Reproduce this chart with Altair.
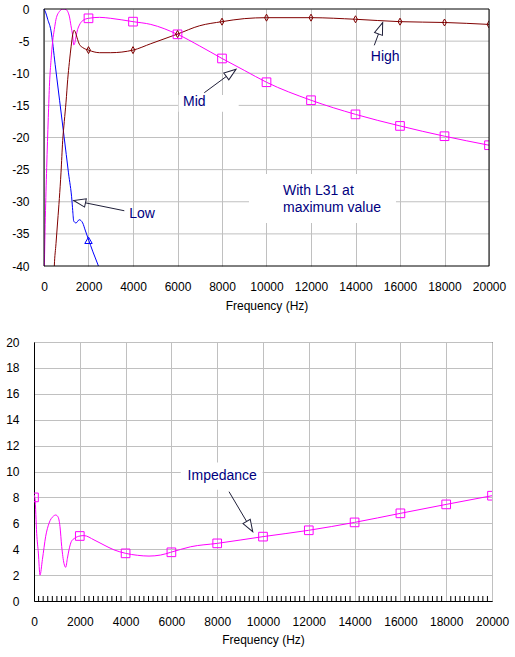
import altair as alt
import pandas as pd

FONT = "Liberation Sans"
GRID = "#c0c0c0"
NAVY = "#000080"
ARROW = "#20203a"
BLUE = "#0000ff"
MAGENTA = "#ff00ff"
DARKRED = "#800000"

# ---------------- Top chart: response (dB) vs frequency (Hz) ----------------
low_f = [0, 80, 166, 315, 500, 700, 900, 1100, 1258, 1300, 1335, 1438, 1586, 1739, 1850, 1991, 2200, 2413, 2600]
low_db = [0, -0.6, -1.6, -3.4, -8.6, -14.2, -19.8, -25.5, -29.9, -31.8, -33.0, -33.3, -32.8, -33.3, -34.4, -35.8, -37.8, -39.7, -41.5]
low_mk_f = [2000]
low_mk_db = [-36.0]

mid_f = [5, 60, 121, 193, 250, 315, 390, 463, 540, 690, 850, 1000, 1080, 1137, 1213, 1290, 1340,
         1390, 1438, 1510, 1590, 1740, 2000, 2500, 3000, 4000, 4800, 6000, 7000, 8000, 9000,
         10000, 12000, 14000, 16000, 18000, 20000]
mid_db = [-42, -32.5, -24.7, -16.9, -11.5, -8.0, -5.0, -3.2, -1.6, -0.4, 0, -0.1, -0.5, -1.1, -2.6, -4.2, -5.6,
          -5.2, -4.3, -3.2, -2.5, -1.8, -1.45, -1.3, -1.45, -1.97, -2.4, -3.94, -5.76, -7.7, -9.55,
          -11.4, -14.2, -16.4, -18.2, -19.8, -21.2]
mid_mk_f = [2000, 4000, 6000, 8000, 10000, 12000, 14000, 16000, 18000, 20000]
mid_mk_db = [-1.45, -1.97, -3.94, -7.7, -11.4, -14.2, -16.4, -18.2, -19.8, -21.2]

high_f = [420, 463, 540, 615, 690, 764, 840, 912, 990, 1065, 1140, 1220, 1290, 1350, 1410, 1480, 1590,
          1740, 2000, 2500, 3000, 4000, 4800, 6000, 7000, 8000, 9000, 10000, 12000, 14000, 16000,
          18000, 20000]
high_db = [-44, -40, -36.5, -33, -29.5, -25.5, -20.5, -17.5, -14.5, -11, -8.3, -5.8, -4.0, -3.3, -3.6, -4.4, -5.5,
           -6.0, -6.4, -6.8, -6.8, -6.4, -5.4, -3.9, -2.6, -1.97, -1.5, -1.35, -1.35, -1.6, -1.97,
           -2.1, -2.4]
high_mk_f = [2000, 4000, 6000, 8000, 10000, 12000, 14000, 16000, 18000, 20000]
high_mk_db = [-6.4, -6.4, -3.9, -1.97, -1.35, -1.35, -1.6, -1.97, -2.1, -2.4]

# ---------------- Bottom chart: impedance (ohm) vs frequency (Hz) ----------------
imp_f = [0, 44, 118, 191, 262, 367, 511, 655, 847, 948, 1048, 1135, 1210, 1310, 1384, 1459, 1528,
         1633, 1777, 2009, 2183, 2620, 3057, 3494, 4004, 4515, 5022, 5533, 5970, 6843, 8000,
         10000, 12000, 14000, 16000, 18000, 20000]
imp_z = [8.2, 7.9, 5.2, 3.7, 2.0, 3.2, 5.0, 6.0, 6.55, 6.64, 6.5, 5.75, 4.2, 2.9, 2.6, 3.3, 3.95,
         4.6, 4.85, 5.02, 5.05, 4.72, 4.32, 3.95, 3.68, 3.53, 3.47, 3.55, 3.76, 4.19, 4.45,
         4.97, 5.46, 6.07, 6.77, 7.46, 8.13]
imp_mk_f = [0, 2000, 4000, 6000, 8000, 10000, 12000, 14000, 16000, 18000, 20000]
imp_mk_z = [8.0, 5.02, 3.68, 3.76, 4.45, 4.97, 5.46, 6.07, 6.77, 7.46, 8.13]

x_ticks = list(range(0, 20001, 2000))
top_y_ticks = list(range(-40, 1, 5))
bot_y_ticks = list(range(0, 21, 2))
minor_ticks = [f for f in range(200, 20000, 200) if f % 2000 != 0]
F_MAX = 20000
TOP_DOM = [-40, 0]
BOT_DOM = [0, 20]

# annotations (data coordinates)
top_labels = pd.DataFrame({"f": [4404, 6755, 15334], "v": [-31.9, -14.55, -7.4], "t": ["Low", "Mid", "High"]})
top_note = pd.DataFrame({"f": [10741, 10741], "v": [-28.3, -30.9], "t": ["With L31 at", "maximum value"]})
top_boxes = pd.DataFrame({"f": [6050, 9213], "f2": [8750, 15819], "v": [-13.4, -25.7], "v2": [-16.0, -33.3]})
top_arrows = pd.DataFrame({
    "tf": [3609, 7204, 14844], "tv": [-31.4, -13.03, -5.65],
    "hf": [1335, 8628, 15221], "hv": [-29.8, -9.39, -2.13],
    "ang": [192.0, 323.6, 290.3],
})
bot_labels = pd.DataFrame({"f": [8219], "v": [9.65], "t": ["Impedance"]})
bot_boxes = pd.DataFrame({"f": [6406], "f2": [9987], "v": [10.7], "v2": [8.6]})
bot_arrows = pd.DataFrame({"tf": [8516], "tv": [8.44], "hf": [9551], "hv": [5.35], "ang": [59.4]})

HEAD = "M0,0L-2,-0.7L-2,0.7Z"
DIAMOND = "M0,-1L0.55,0L0,1L-0.55,0Z"

# layout (pixels)
TOP_W, TOP_H, TOP_SHIFT = 445, 257, 10     # top plot starts 10 px right of the bottom plot
BOT_W, BOT_H = 458, 259

LABEL_STYLE = dict(labelFont=FONT, labelFontSize=12, labelColor="black", labelFlush=False,
                   labelOverlap=False)
TITLE_STYLE = dict(titleFont=FONT, titleFontSize=12, titleFontWeight="normal", titleColor="black")


def layers_for(X, Y, lines, markers, labels, notes, boxes, arrows):
    out = [alt.Chart(boxes).mark_rect(color="white", opacity=1).encode(
        x=X("f"), x2="f2:Q", y=Y("v"), y2="v2:Q")]
    for df, col in lines:
        out.append(alt.Chart(df).mark_line(color=col, strokeWidth=1, interpolate="monotone", clip=True).encode(
            x=X("f"), y=Y("v"), order="f:Q"))
    for df, col, shape, size in markers:
        out.append(alt.Chart(df).mark_point(color=col, shape=shape, size=size, filled=False,
                                            strokeWidth=1, opacity=1, clip=True).encode(
            x=X("f"), y=Y("v")))
    out.append(alt.Chart(arrows).mark_rule(color=ARROW, strokeWidth=1).encode(
        x=X("tf"), x2="hf:Q", y=Y("tv"), y2="hv:Q"))
    out.append(alt.Chart(arrows).mark_point(shape=HEAD, size=144, filled=True, fill="white",
                                            stroke=ARROW, strokeWidth=1, opacity=1).encode(
        x=X("hf"), y=Y("hv"), angle=alt.Angle("ang:Q", scale=None)))
    out.append(alt.Chart(labels).mark_text(font=FONT, fontSize=14, color=NAVY, align="center",
                                           baseline="middle").encode(
        x=X("f"), y=Y("v"), text="t:N"))
    if notes is not None:
        out.append(alt.Chart(notes).mark_text(font=FONT, fontSize=14, color=NAVY, align="left",
                                              baseline="middle").encode(
            x=X("f"), y=Y("v"), text="t:N"))
    return out


def frame(fs, vs):
    return pd.DataFrame({"f": fs, "v": vs})


# ---------- top chart (plot area inset by TOP_SHIFT inside its view) ----------
top_xscale = alt.Scale(domain=[-F_MAX * TOP_SHIFT / TOP_W, F_MAX], nice=False, zero=False)
top_yscale = alt.Scale(domain=TOP_DOM, nice=False, zero=False)
top_xaxis = alt.Axis(values=x_ticks, title="Frequency (Hz)", grid=True, gridColor=GRID, gridWidth=1,
                     ticks=False, tickSize=0, labelPadding=15, format="d", domain=False,
                     titleX=TOP_SHIFT + TOP_W / 2, titleY=34, titleBaseline="top", titleAlign="center",
                     **LABEL_STYLE, **TITLE_STYLE)
top_yaxis = alt.Axis(values=top_y_ticks, grid=False, ticks=False, tickSize=0, domain=False,
                     labelPadding=5, labelExpr="'' + datum.value", title=None, **LABEL_STYLE)


def TX(field):
    return alt.X(field, type="quantitative", scale=top_xscale, axis=top_xaxis)


def TY(field):
    return alt.Y(field, type="quantitative", scale=top_yscale, axis=top_yaxis)


top_hgrid = pd.DataFrame({"f": 0, "f2": F_MAX, "v": [t for t in top_y_ticks if t not in TOP_DOM]})
top_hgrid["v2"] = top_hgrid["v"]
top_frame = pd.DataFrame({
    "f": [0, F_MAX, 0, 0], "f2": [0, F_MAX, F_MAX, F_MAX],
    "v": [TOP_DOM[0], TOP_DOM[0], TOP_DOM[1], TOP_DOM[0]], "v2": [TOP_DOM[1], TOP_DOM[1], TOP_DOM[1], TOP_DOM[0]],
})

top_layers = [alt.Chart(top_hgrid).mark_rule(color=GRID, strokeWidth=1).encode(
    x=TX("f"), x2="f2:Q", y=TY("v"), y2="v2:Q")]
top_layers += layers_for(
    TX, TY,
    lines=[(frame(low_f, low_db), BLUE), (frame(mid_f, mid_db), MAGENTA), (frame(high_f, high_db), DARKRED)],
    markers=[(frame(low_mk_f, low_mk_db), BLUE, "triangle-up", 55),
             (frame(mid_mk_f, mid_mk_db), MAGENTA, "square", 75),
             (frame(high_mk_f, high_mk_db), DARKRED, DIAMOND, 49)],
    labels=top_labels, notes=top_note, boxes=top_boxes, arrows=top_arrows)
top_layers.append(alt.Chart(top_frame).mark_rule(color="black", strokeWidth=1).encode(
    x=TX("f"), x2="f2:Q", y=TY("v"), y2="v2:Q"))

top = alt.layer(*top_layers).properties(
    width=TOP_W + TOP_SHIFT, height=TOP_H, view=alt.ViewBackground(stroke="transparent"))

# ---------- bottom chart ----------
bot_xscale = alt.Scale(domain=[0, F_MAX], nice=False, zero=False)
bot_yscale = alt.Scale(domain=BOT_DOM, nice=False, zero=False)
bot_xaxis = alt.Axis(values=x_ticks, title="Frequency (Hz)", grid=True, gridColor=GRID, gridWidth=1,
                     ticks=False, tickSize=0, labelPadding=15, format="d", domainColor="black",
                     titlePadding=7, **LABEL_STYLE, **TITLE_STYLE)
bot_yaxis = alt.Axis(values=bot_y_ticks, grid=True, gridColor=GRID, gridWidth=1, ticks=False, tickSize=0,
                     labelPadding=15, labelExpr="'' + datum.value", domainColor="black", title=None,
                     **LABEL_STYLE)


def BX(field):
    return alt.X(field, type="quantitative", scale=bot_xscale, axis=bot_xaxis)


def BY(field):
    return alt.Y(field, type="quantitative", scale=bot_yscale, axis=bot_yaxis)


bot_layers = layers_for(
    BX, BY,
    lines=[(frame(imp_f, imp_z), MAGENTA)],
    markers=[(frame(imp_mk_f, imp_mk_z), MAGENTA, "square", 75)],
    labels=bot_labels, notes=None, boxes=bot_boxes, arrows=bot_arrows)
bot_layers.insert(1, alt.Chart(pd.DataFrame({"f": minor_ticks})).mark_rule(color="black", strokeWidth=1).encode(
    x=BX("f"), y=alt.value(BOT_H), y2=alt.value(BOT_H - 5)))

bottom = alt.layer(*bot_layers).properties(width=BOT_W, height=BOT_H)

chart = alt.vconcat(top, bottom, spacing=23).configure_view(
    stroke="black", strokeWidth=1
).properties(
    padding={"left": 5, "top": 2, "right": 5, "bottom": 5},
    background="white",
)

chart.save("out.html", embed_options={"renderer": "svg", "actions": False})
